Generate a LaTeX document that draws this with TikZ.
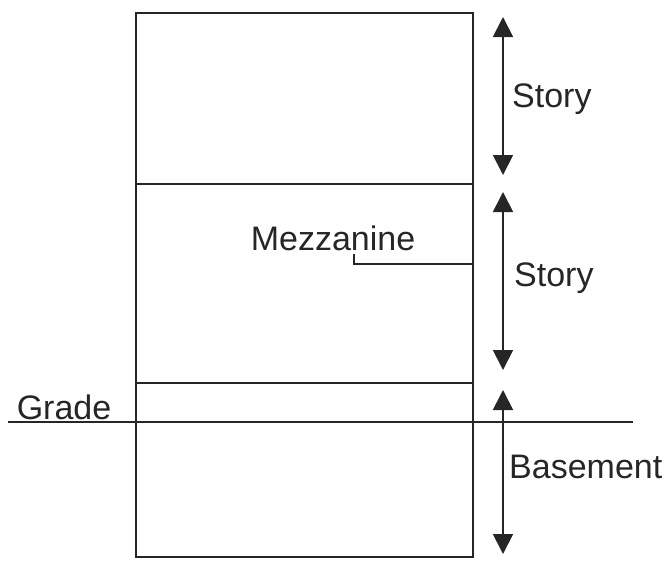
\documentclass[tikz,border=0pt]{standalone}
\usepackage{fontspec}
\setmainfont{Liberation Sans}
\usetikzlibrary{arrows.meta}
\begin{document}
\begin{tikzpicture}[x=1pt,y=-1pt,
  wall/.style={line width=2.2pt,draw=black!85},
  dim/.style={line width=1.8pt,draw=black!85,{Triangle[width=20pt,length=20pt]}-{Triangle[width=20pt,length=20pt]}},
  lbl/.style={font=\fontsize{34}{39}\selectfont,text=black!85,inner sep=0pt}]
\useasboundingbox (0,0) rectangle (666,560);
% building
\draw[wall] (136,13) rectangle (473,557);
\draw[wall] (136,184) -- (473,184);
\draw[wall] (136,383) -- (473,383);
% grade
\coordinate (gl) at (8,422);
\coordinate (gr) at (633,422);
\draw[wall] (gl) -- (gr);
\node[lbl] (grade) at (64,407) {Grade};
% mezzanine
\node[lbl] (mezz) at (333,238) {Mezzanine};
\coordinate (m1) at (354,254);
\coordinate (m2) at (354,264);
\coordinate (m3) at (473,264);
\draw[line width=1.8pt,draw=black!85] (m1) -- (m2) -- (m3);
% dimension arrows
\coordinate (a1) at (503,17);
\coordinate (a2) at (503,175);
\coordinate (b1) at (503,192);
\coordinate (b2) at (503,370);
\coordinate (c1) at (503,390);
\coordinate (c2) at (503,554);
\draw[dim] (a1) -- (a2);
\draw[dim] (b1) -- (b2);
\draw[dim] (c1) -- (c2);
\node[lbl,anchor=west] (s1) at (512,99) {Story};
\node[lbl,anchor=west] (s2) at (514,278) {Story};
\node[lbl,anchor=west] (bs) at (509,467) {Basement};
\end{tikzpicture}
\end{document}
